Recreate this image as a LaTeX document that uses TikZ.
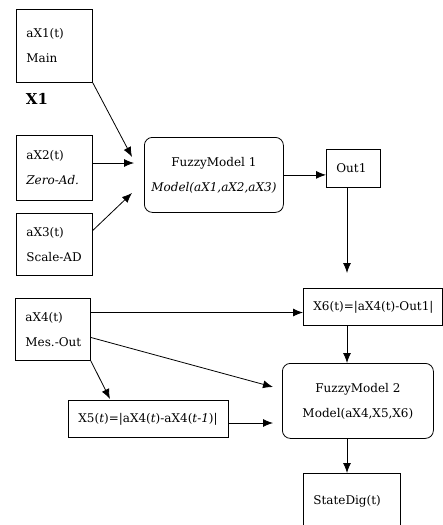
\documentclass[tikz,border=0pt]{standalone}
\usepackage{fontspec}
\setmainfont{DejaVu Serif}
\usetikzlibrary{arrows.meta}
\exhyphenpenalty=10000
\hyphenpenalty=10000
\tikzset{>={Latex[length=10pt,width=8pt]}}
\tikzset{
  box/.style = {
    draw, rectangle, anchor=north west, align=left,
    inner xsep=10pt, inner ysep=0pt,
    font=\fontsize{12}{25}\selectfont
  },
  model/.style = {
    draw, rectangle, rounded corners=8pt, anchor=north west, align=center,
    inner sep=0pt,
    font=\fontsize{12}{25}\selectfont
  }
}

\begin{document}
\begin{tikzpicture}[x=1pt,y=-1pt,line width=0.8pt]
  \clip (0,0) rectangle (443,525);
  % inputs of model 1
  \node[box,text width=56pt,minimum height=73pt] (ax1) at (16,9) {aX1(t)\\Main};
  \node[font=\fontsize{15}{18}\selectfont\bfseries] (xone) at (37,99) {X1};
  \node[box,text width=56pt,minimum height=65pt] (ax2) at (16,135) {aX2(t)\\\textit{Zero-Ad.}};
  \node[box,text width=56pt,minimum height=62pt] (ax3) at (16,213) {aX3(t)\\Scale-AD};
  % model 1
  \node[model,minimum width=139pt,minimum height=75pt] (fm1) at (144,137) {FuzzyModel 1\\\textit{Model(aX1,aX2,aX3)}};
  \node[box,text width=34pt,minimum height=38pt] (out1) at (326,149) {Out1};
  % inputs of model 2
  \node[box,text width=55pt,minimum height=62pt] (ax4) at (15,298) {aX4(t)\\Mes.-Out};
  \node[box,text width=119pt,minimum height=37pt] (x6) at (303,288) {X6(t)=|aX4(t)-Out1|};
  \node[box,text width=140pt,minimum height=37pt] (x5) at (68,400) {X5(\textit{t})=|aX4(\textit{t})-aX4(\textit{t-1})|};
  % model 2
  \node[model,minimum width=151pt,minimum height=75pt] (fm2) at (282,363) {FuzzyModel 2\\Model(aX4,X5,X6)};
  \node[box,text width=77pt,minimum height=55pt] (state) at (303,473) {StateDig(t)\\[8pt]};
  % arrow ends
  \coordinate (spine) at (347,0);
  \coordinate (t1) at (132,157);
  \coordinate (t2) at (134,163);
  \coordinate (t3) at (132,193);
  \coordinate (t7) at (273,387);
  \coordinate (t8) at (110,399);
  \coordinate (t9) at (273,423);
  % arrows into model 1
  \draw[->] (ax1.south east) -- (t1);
  \draw[->] (ax2.east |- t2) -- (t2);
  \draw[->] (ax3.20) -- (t3);
  \draw[->] (fm1.east) -- (fm1.east -| out1.west);
  \draw[->,shorten >=15pt] (out1.south -| spine) -- (x6.north -| spine);
  % arrows into model 2
  \draw[->] (ax4.24) -- (ax4.24 -| x6.west);
  \draw[->] (ax4.-12) -- (t7);
  \draw[->] (ax4.south east) -- (t8);
  \draw[->] (x5.east |- t9) -- (t9);
  \draw[->] (x6.south -| spine) -- (fm2.north -| spine);
  \draw[->] (fm2.south -| spine) -- (state.north -| spine);
\end{tikzpicture}
\end{document}
